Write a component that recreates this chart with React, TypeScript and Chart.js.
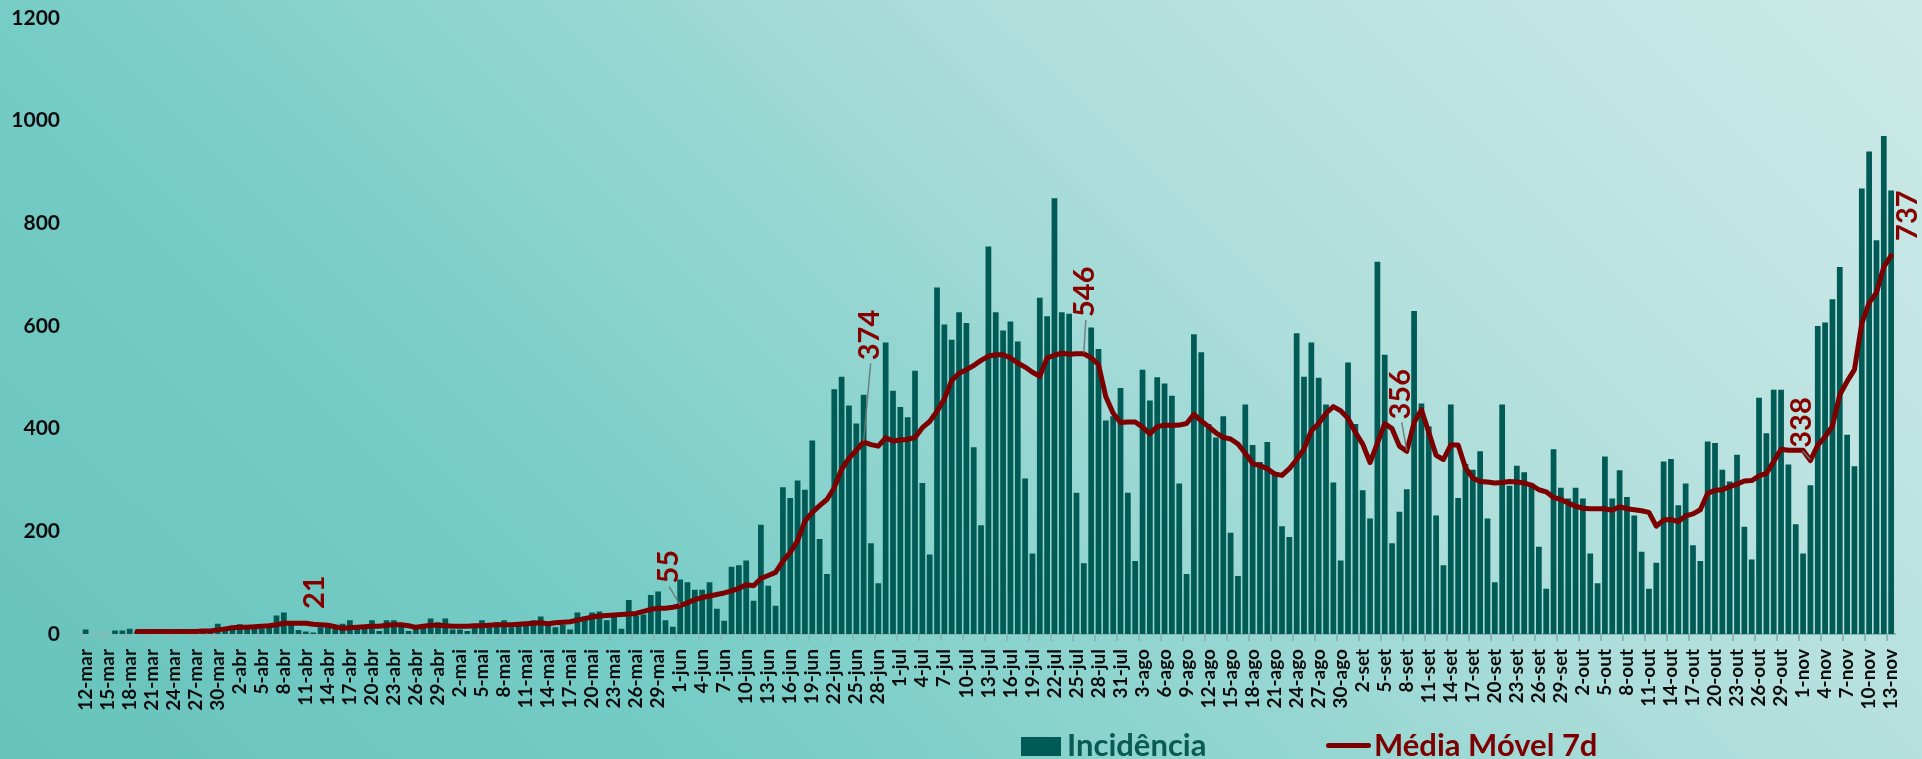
import React, { useEffect, useRef } from 'react';
import { Chart, registerables } from 'chart.js';

Chart.register(...registerables);

// ---- data ---------------------------------------------------------------
const MONTHS = ['jan', 'fev', 'mar', 'abr', 'mai', 'jun', 'jul', 'ago', 'set', 'out', 'nov', 'dez'];
const FIRST_DAY = { year: 2020, month: 2, day: 12 }; // 12-mar
const LABEL_EVERY = 3;
const Y_TICKS = [0, 200, 400, 600, 800, 1000, 1200];

// Incidência (daily cases) 12-mar .. 13-nov
const incidence: number[] = [
  9, 0, 0, 0, 7, 7, 10, 4, 3, 5,
  4, 3, 5, 4, 6, 5, 7, 9, 20, 13,
  16, 19, 13, 13, 10, 13, 36, 42, 18, 8,
  5, 3, 13, 13, 10, 20, 27, 10, 11, 27,
  6, 27, 27, 16, 6, 12, 13, 30, 23, 30,
  9, 9, 6, 13, 27, 13, 23, 27, 13, 17,
  16, 27, 34, 18, 13, 18, 9, 42, 34, 42,
  44, 27, 40, 10, 66, 36, 38, 76, 83, 27,
  14, 106, 101, 86, 86, 101, 49, 26, 131, 134,
  143, 65, 213, 94, 55, 286, 265, 299, 281, 377,
  185, 117, 477, 501, 445, 410, 466, 177, 99, 568,
  474, 442, 422, 513, 294, 155, 675, 603, 573, 627,
  606, 364, 212, 755, 627, 591, 609, 570, 303, 157,
  655, 619, 849, 627, 624, 275, 138, 597, 555, 416,
  424, 479, 275, 142, 515, 455, 500, 488, 464, 293,
  117, 584, 549, 409, 383, 424, 197, 113, 447, 368,
  335, 374, 312, 210, 189, 586, 501, 568, 499, 447,
  295, 143, 529, 409, 280, 225, 725, 544, 177, 238,
  282, 629, 449, 404, 231, 134, 447, 265, 331, 320,
  356, 225, 101, 447, 289, 328, 315, 293, 170, 88,
  360, 285, 264, 285, 264, 157, 99, 346, 264, 319,
  267, 231, 160, 88, 139, 336, 341, 251, 293, 173,
  142, 375, 372, 320, 297, 349, 209, 145, 460, 391,
  476, 476, 330, 214, 157, 290, 600, 607, 652, 715,
  388, 327, 868, 940, 767, 970, 864,
];

// Média Móvel 7d
const movingAvg: (number | null)[] = [
  null, null, null, null, null, null, null,
  5, 5, 5, 5, 5, 5, 5, 5, 5, 6, 6,
  8, 10, 12, 13, 13, 14, 15, 16, 18, 21, 21, 21, 21,
  19, 18, 17, 14, 11, 12, 13, 14, 15, 15,
  17, 18, 18, 16, 13, 15, 17, 17, 16, 15,
  15, 15, 16, 16, 17, 18, 18, 18, 19, 20,
  21, 22, 20, 22, 23, 24, 27, 30, 33, 35,
  36, 37, 38, 39, 40, 44, 48, 50, 50, 52, 55,
  61, 67, 71, 74, 77, 80, 84, 89, 96,
  94, 108, 114, 120, 142, 159, 182, 220, 237, 250,
  262, 285, 321, 342, 358, 374, 369, 366, 382, 376,
  378, 379, 383, 402, 414, 434, 458, 494, 508, 515,
  523, 533, 541, 544, 544, 538, 528, 520, 510, 502,
  538, 543, 547, 545, 546, 546, 538, 525, 462, 430,
  412, 413, 413, 403, 390, 404, 407, 406, 407, 410,
  428, 415, 404, 392, 383, 380, 370, 352, 332, 328,
  322, 312, 309, 322, 340, 360, 396, 410, 430, 443,
  435, 420, 393, 370, 334, 372, 410, 400, 366, 356,
  412, 437, 393, 348, 340, 368, 368, 324, 304, 297,
  296, 294, 295, 297, 296, 294, 290, 281, 277, 266,
  262, 255, 249, 245, 244, 244, 244, 241, 248, 244,
  242, 240, 237, 210, 222, 223, 219, 230, 234, 242,
  274, 280, 281, 287, 292, 298, 299, 308, 313, 336,
  360, 358, 358, 358, 338, 368, 384, 405, 466, 492,
  515, 605, 645, 665, 715, 737,
];

// labelled moving-average points
const labelIndices = [30, 81, 106, 136, 180, 235, 246];
const labelTexts = ['21', '55', '374', '546', '356', '338', '737'];

function buildCategories(count: number): string[] {
  const out: string[] = [];
  const d = new Date(Date.UTC(FIRST_DAY.year, FIRST_DAY.month, FIRST_DAY.day));
  for (let i = 0; i < count; i++) {
    out.push(`${d.getUTCDate()}-${MONTHS[d.getUTCMonth()]}`);
    d.setUTCDate(d.getUTCDate() + 1);
  }
  return out;
}
const categories = buildCategories(incidence.length);

// ---- styles -------------------------------------------------------------
const BAR_COLOR = '#005a55';
const LINE_COLOR = '#7d0000';
const LABEL_COLOR = '#860000';
const AXIS_COLOR = '#88b9b6';
const FONT = 'Lato, "Open Sans", "Noto Sans", sans-serif';

// label offsets from their point (px)
const labelStyle = [
  { dx: 9, dy: -31, leader: false },
  { dx: -12, dy: -39, leader: true },
  { dx: 6, dy: -107, leader: true },
  { dx: 1, dy: -62, leader: true },
  { dx: -6, dy: -57, leader: true },
  { dx: -9, dy: -38, leader: true },
  { dx: 16, dy: -40, leader: false },
];

export default function App() {
  const ref = useRef<HTMLCanvasElement>(null);

  useEffect(() => {
    const canvas = ref.current;
    if (!canvas) return;

    const maLabels = {
      id: 'maLabels',
      afterDatasetsDraw(chart: any) {
        const meta = chart.getDatasetMeta(1);
        const ctx: CanvasRenderingContext2D = chart.ctx;
        ctx.save();
        ctx.font = `bold 29px ${FONT}`;
        labelIndices.forEach((idx, k) => {
          const pt = meta.data[idx];
          if (!pt) return;
          const st = labelStyle[k];
          const cx = pt.x + st.dx;
          const cy = pt.y + st.dy;
          const half = ctx.measureText(labelTexts[k]).width / 2;
          if (st.leader) {
            ctx.strokeStyle = 'rgba(105,120,120,0.9)';
            ctx.lineWidth = 1.5;
            ctx.beginPath();
            ctx.moveTo(cx + 1, cy + half + 3);
            ctx.lineTo(pt.x, pt.y - 1);
            ctx.stroke();
          }
          ctx.save();
          ctx.translate(cx, cy);
          ctx.rotate(-Math.PI / 2);
          ctx.fillStyle = LABEL_COLOR;
          ctx.textAlign = 'center';
          ctx.textBaseline = 'middle';
          ctx.fillText(labelTexts[k], 0, 0);
          ctx.restore();
        });
        ctx.restore();
      },
    };

    const chart = new Chart(canvas, {
      type: 'bar',
      data: {
        labels: categories,
        datasets: [
          {
            type: 'bar',
            label: 'Incidência',
            data: incidence,
            backgroundColor: BAR_COLOR,
            barPercentage: 0.78,
            categoryPercentage: 1,
            order: 1,
          },
          {
            type: 'line',
            label: 'Média Móvel 7d',
            data: movingAvg,
            borderColor: LINE_COLOR,
            backgroundColor: LINE_COLOR,
            borderWidth: 5,
            pointRadius: 0,
            tension: 0,
            borderJoinStyle: 'round',
            borderCapStyle: 'round',
            fill: false,
            order: 0,
          },
        ] as any,
      },
      options: {
        responsive: false,
        animation: false,
        layout: { padding: { left: 0, right: 26, top: 18, bottom: 0 } },
        plugins: { legend: { display: false }, tooltip: { enabled: false } },
        scales: {
          x: {
            offset: true,
            grid: {
              display: true,
              drawOnChartArea: false,
              drawTicks: true,
              tickLength: 7,
              offset: true,
              lineWidth: 2,
              color: (c: any) => (c.index % LABEL_EVERY === 0 ? AXIS_COLOR : 'rgba(0,0,0,0)'),
            },
            border: { display: true, color: AXIS_COLOR, width: 2 },
            ticks: {
              autoSkip: false,
              maxRotation: 90,
              minRotation: 90,
              padding: 8,
              color: '#0b0b0b',
              font: { family: FONT, weight: 'bold', size: 19 },
              callback: (_v: any, i: number) => (i % LABEL_EVERY === 0 ? categories[i] : ''),
            },
            afterFit: (s: any) => {
              s.height = 125;
            },
          },
          y: {
            min: Y_TICKS[0],
            max: Y_TICKS[Y_TICKS.length - 1],
            grid: { display: false, drawTicks: false },
            border: { display: false },
            afterBuildTicks: (s: any) => {
              s.ticks = Y_TICKS.map((v) => ({ value: v }));
            },
            ticks: {
              padding: 22,
              color: '#0b0b0b',
              font: { family: FONT, weight: 'bold', size: 21 },
              callback: (v: any) => String(v),
            },
            afterFit: (s: any) => {
              s.width = 82;
              s.paddingTop = 10;
              s.paddingBottom = 10;
            },
          },
        },
      } as any,
      plugins: [maLabels],
    });

    return () => chart.destroy();
  }, []);

  return (
    <div
      style={{
        position: 'fixed',
        left: 0,
        top: 0,
        width: 1922,
        height: 759,
        overflow: 'hidden',
        background:
          'linear-gradient(45deg, #67c3bb 0%, #76ccc6 28%, #88d2cd 40%, #96d6d2 50%, #aededb 64%, #c3e5e3 86%, #cbe9e7 100%)',
      }}
    >
      <canvas ref={ref} width={1922} height={759} style={{ position: 'absolute', left: 0, top: 0 }} />
      <div style={{ position: 'absolute', left: 1021, top: 737, width: 40, height: 19, background: BAR_COLOR }} />
      <div
        style={{
          position: 'absolute',
          left: 1067,
          top: 725,
          font: `bold 31px ${FONT}`,
          color: '#0a5a55',
          whiteSpace: 'nowrap',
          lineHeight: 'normal',
        }}
      >
        Incidência
      </div>
      <div
        style={{
          position: 'absolute',
          left: 1326,
          top: 743,
          width: 45,
          height: 5,
          borderRadius: 3,
          background: LINE_COLOR,
        }}
      />
      <div
        style={{
          position: 'absolute',
          left: 1374,
          top: 725,
          font: `bold 31px ${FONT}`,
          color: LINE_COLOR,
          whiteSpace: 'nowrap',
          lineHeight: 'normal',
        }}
      >
        Média Móvel 7d
      </div>
    </div>
  );
}
